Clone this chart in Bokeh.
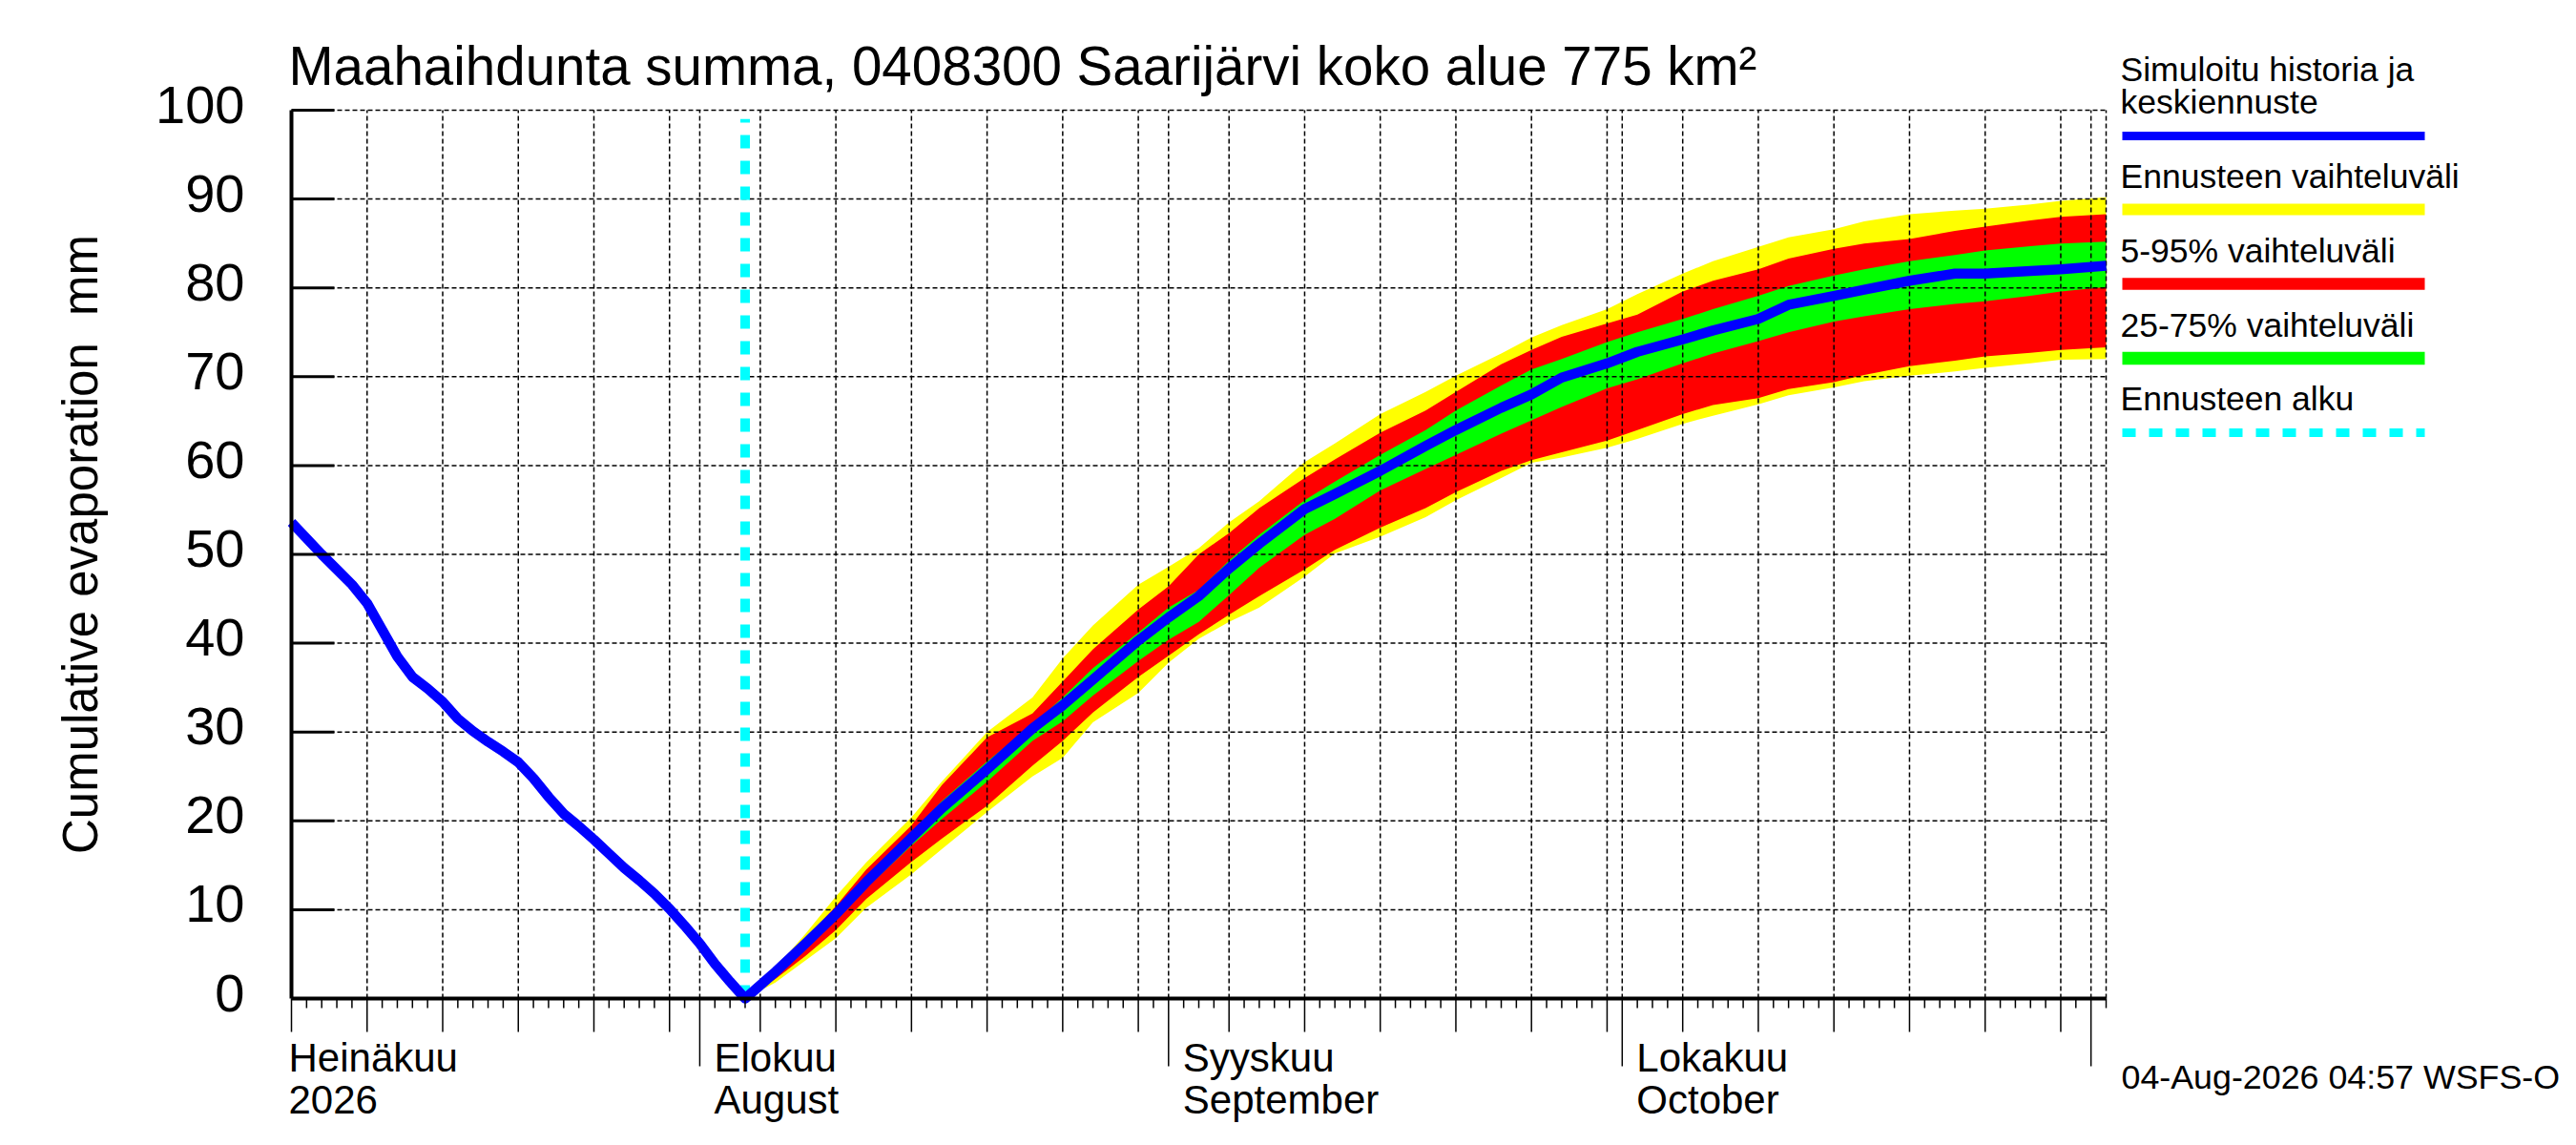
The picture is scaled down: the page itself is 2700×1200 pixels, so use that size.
import pandas as pd
from bokeh.plotting import figure
from bokeh.models import Range1d
from bokeh.embed import file_html
from bokeh.resources import INLINE
from bokeh.core.properties import value

# ---------------- data ----------------
TITLE = "Maahaihdunta summa, 0408300 Saarijärvi koko alue 775 km²"
Y_LABEL = "Cumulative evaporation \u00a0mm"
FOOTER = "04-Aug-2026 04:57 WSFS-O"
START = "2026-07-05"
END = "2026-11-02"
FORECAST_START = "2026-08-04"
Y_TICKS = [0, 10, 20, 30, 40, 50, 60, 70, 80, 90, 100]

month_starts = ["2026-07-01", "2026-08-01", "2026-09-01", "2026-10-01"]
month_fi = ["Heinäkuu", "Elokuu", "Syyskuu", "Lokakuu"]
month_line2 = ["2026", "August", "September", "October"]

hist_dates = pd.date_range("2026-07-05", "2026-08-04", freq="D")
hist_values = [53.6, 51.8, 50.0, 48.3, 46.6, 44.5, 41.5, 38.5, 36.2, 34.9, 33.4,
               31.5, 30.1, 28.9, 27.8, 26.6, 24.8, 22.7, 20.8, 19.4, 17.9, 16.3,
               14.7, 13.3, 11.8, 10.1, 8.2, 6.2, 3.9, 1.9, 0.0]

fc_dates = ["2026-08-04", "2026-08-06", "2026-08-08", "2026-08-10", "2026-08-12",
            "2026-08-15", "2026-08-17", "2026-08-20", "2026-08-23", "2026-08-25",
            "2026-08-27", "2026-08-30", "2026-09-01", "2026-09-03", "2026-09-05",
            "2026-09-07", "2026-09-10", "2026-09-12", "2026-09-15", "2026-09-18",
            "2026-09-20", "2026-09-23", "2026-09-25", "2026-09-27", "2026-09-30",
            "2026-10-02", "2026-10-05", "2026-10-07", "2026-10-10", "2026-10-12",
            "2026-10-15", "2026-10-17", "2026-10-20", "2026-10-23", "2026-10-25",
            "2026-10-28", "2026-10-30", "2026-11-02"]
fc_median = [0, 3.0, 6.2, 9.5, 13.1, 18.1, 21.4, 25.8, 30.4, 33.0, 35.9, 40.3, 42.9,
             45.3, 48.4, 51.2, 55.1, 56.8, 59.4, 62.2, 64.0, 66.5, 68.0, 69.9, 71.5,
             72.8, 74.2, 75.2, 76.5, 78.1, 79.1, 79.8, 80.8, 81.6, 81.6, 81.9, 82.1, 82.5]
fc_max = [0, 3.4, 7.3, 11.5, 15.3, 20.4, 24.4, 30.0, 33.9, 38.3, 42.0, 46.6, 48.6,
          50.7, 53.6, 56.0, 60.4, 62.5, 65.8, 68.3, 70.1, 72.6, 74.4, 75.8, 77.6,
          79.3, 81.6, 83.0, 84.6, 85.7, 86.6, 87.5, 88.3, 88.7, 88.9, 89.4, 89.8, 90.2]
fc_p95 = [0, 3.2, 6.8, 10.4, 14.5, 19.5, 24.0, 29.4, 32.1, 35.7, 39.3, 43.8, 46.4,
          50.0, 52.4, 55.2, 58.6, 60.7, 63.7, 66.2, 68.3, 71.4, 73.0, 74.5, 76.0,
          77.0, 79.6, 80.8, 82.1, 83.3, 84.4, 85.0, 85.5, 86.4, 86.9, 87.6, 88.0, 88.3]
fc_p75 = [0, 3.1, 6.4, 10.0, 13.8, 18.6, 22.2, 26.7, 30.8, 33.9, 37.2, 41.2, 44.0,
          46.0, 49.3, 52.2, 56.1, 58.2, 61.2, 64.0, 66.2, 69.0, 70.8, 72.0, 73.9,
          75.0, 76.5, 77.6, 79.1, 80.2, 81.4, 82.1, 83.0, 83.7, 84.2, 84.7, 85.0, 85.2]
fc_p25 = [0, 2.8, 5.6, 8.8, 12.4, 17.2, 20.2, 24.4, 29.0, 31.2, 34.1, 38.0, 40.4,
          42.4, 45.4, 48.5, 52.2, 54.0, 57.2, 59.6, 61.2, 63.6, 65.1, 66.6, 68.7,
          69.7, 71.5, 72.6, 74.0, 75.0, 76.2, 76.8, 77.6, 78.2, 78.5, 79.1, 79.6, 80.1]
fc_p5 = [0, 2.2, 4.8, 7.7, 11.2, 15.4, 18.0, 21.7, 26.2, 29.0, 32.2, 36.2, 38.6,
         41.0, 43.2, 45.3, 48.3, 50.5, 53.0, 55.2, 57.0, 59.4, 60.6, 61.5, 62.8,
         64.0, 65.8, 66.8, 67.6, 68.6, 69.4, 70.2, 71.2, 71.8, 72.3, 72.7, 73.0, 73.3]
fc_min = [0, 1.8, 4.3, 6.8, 10.2, 14.0, 16.8, 21.0, 25.0, 27.1, 31.1, 34.4, 37.8,
          40.5, 42.4, 44.0, 47.5, 50.1, 52.0, 54.2, 56.1, 58.6, 60.3, 60.9, 62.0,
          63.0, 64.7, 65.6, 66.9, 67.9, 68.8, 69.5, 70.1, 70.6, 71.0, 71.5, 71.9, 72.0]

legend_labels = [["Simuloitu historia ja", "keskiennuste"], ["Ennusteen vaihteluväli"],
                 ["5-95% vaihteluväli"], ["25-75% vaihteluväli"], ["Ennusteen alku"]]

# ---------------- styling / layout ----------------
BLUE, YELLOW, RED, GREEN, CYAN = "#0000ff", "#ffff00", "#ff0000", "#00ff00", "#00ffff"
FONT = value("Liberation Sans")
W, H = 2695, 1195
PX_PER_DAY = 15.85
PX_PER_MM = 9.31
X0_PX, Y0_PX = 305, 1046  # pixel of (START, 0)
BASE_FIX = 0.32  # em shift compensating the text box placement

DAY_MS = 86400000.0
t_start = pd.Timestamp(START).value / 1e6
t_end = pd.Timestamp(END).value / 1e6


def ms(d):
    return pd.Timestamp(d).value / 1e6


def xpx(px):
    return t_start + (px - X0_PX) / PX_PER_DAY * DAY_MS


def ypx(py):
    return (Y0_PX - py) / PX_PER_MM


def dx(px):
    return px / PX_PER_DAY * DAY_MS


def dy(px):
    return px / PX_PER_MM


p = figure(width=W, height=H, output_backend="svg", toolbar_location=None,
           x_range=Range1d(xpx(0), xpx(W)),
           y_range=Range1d(ypx(H), ypx(0)),
           x_axis_location=None, y_axis_location=None, min_border=0,
           outline_line_color=None, background_fill_color="white",
           border_fill_color="white")
for g in p.grid:
    g.visible = False


def put_text(xs, ys_px, texts, size, align="left"):
    """ys_px: wanted alphabetic baseline in pixels"""
    p.text(x=xs, y=[ypx(b - BASE_FIX * size) for b in ys_px], text=texts,
           text_align=align, text_baseline="alphabetic", text_font=FONT,
           text_font_size=value(f"{size}px"), text_color="black")


fx = [ms(d) for d in fc_dates]
y_top = Y_TICKS[-1]

# forecast bands
p.varea(x=fx, y1=fc_min, y2=fc_max, fill_color=YELLOW)
p.varea(x=fx, y1=fc_p5, y2=fc_p95, fill_color=RED)
p.varea(x=fx, y1=fc_p25, y2=fc_p75, fill_color=GREEN)

# grid
days = pd.date_range(START, END, freq="D")
grid_days = [d for d in days[1:] if d.day in (1, 5, 10, 15, 20, 25, 30)]
if days[-1] not in grid_days:
    grid_days.append(days[-1])
gx = [d.value / 1e6 for d in grid_days]
p.segment(x0=gx, x1=gx, y0=[0] * len(gx), y1=[y_top] * len(gx),
          line_color="black", line_width=1.5, line_dash="5 3")
hy = Y_TICKS[1:]
p.segment(x0=[t_start] * len(hy), x1=[t_end] * len(hy), y0=hy, y1=hy,
          line_color="black", line_width=1.5, line_dash="5 3")

# forecast start marker
fs = ms(FORECAST_START)
p.segment(x0=[fs], x1=[fs], y0=[0], y1=[y_top - 1], line_color=CYAN, line_width=10,
          line_dash="14 13")

# history + median
blue_x = [d.value / 1e6 for d in hist_dates] + fx[1:]
blue_y = hist_values + fc_median[1:]
p.line(blue_x, blue_y, line_color=BLUE, line_width=10.5, line_join="round")

# axes lines
p.segment(x0=[t_start], x1=[t_start], y0=[0], y1=[y_top], line_color="black", line_width=4)
p.segment(x0=[t_start], x1=[t_end], y0=[0], y1=[0], line_color="black", line_width=4)

# y ticks (inward) and labels
p.segment(x0=[t_start] * len(Y_TICKS), x1=[t_start + dx(45)] * len(Y_TICKS),
          y0=Y_TICKS, y1=Y_TICKS, line_color="black", line_width=3)
p.text(x=[t_start - dx(49)] * len(Y_TICKS),
       y=[v - dy(12) + dy(BASE_FIX * 56) for v in Y_TICKS],
       text=[str(v) for v in Y_TICKS], text_align="right", text_baseline="alphabetic",
       text_font=FONT, text_font_size=value("56px"), text_color="black")

# x ticks
tx, tlen = [], []
for d in days:
    tx.append(d.value / 1e6)
    if d.day == 1:
        tlen.append(71)
    elif d.day % 5 == 0:
        tlen.append(35)
    else:
        tlen.append(10)
p.segment(x0=tx, x1=tx, y0=[0] * len(tx), y1=[-dy(L) for L in tlen],
          line_color="black", line_width=1.5)

# month labels
lab_x = []
for m in month_starts:
    t = ms(m)
    lab_x.append(t + dx(15) if t >= t_start else t_start - dx(3))
put_text(lab_x, [1121] * len(lab_x), month_fi, 42)
put_text(lab_x, [1165] * len(lab_x), month_line2, 42)

# title
put_text([xpx(302)], [87], [TITLE], 56.5)

# y label (rotated)
p.text(x=[xpx(100 - BASE_FIX * 51)], y=[ypx(570)], text=[Y_LABEL], angle=1.5707963,
       text_align="center", text_baseline="alphabetic", text_font=FONT,
       text_font_size=value("51px"), text_color="black")

# footer
put_text([xpx(2223)], [1140], [FOOTER], 35.8)

# legend
lx0, lx1 = xpx(2224), xpx(2541)
text_base = [[84, 118], [196], [274], [352], [429]]
line_y = [142, 219, 297, 375, 453]
line_w = [9, 12, 12.5, 13.4, 9]
line_c = [BLUE, YELLOW, RED, GREEN, CYAN]
for labels, bases, ly, lw, lc in zip(legend_labels, text_base, line_y, line_w, line_c):
    put_text([xpx(2222)] * len(labels), bases, labels, 35.5)
    p.segment(x0=[lx0], x1=[lx1], y0=[ypx(ly)], y1=[ypx(ly)], line_color=lc,
              line_width=lw, line_dash="14 14" if lc == CYAN else "solid")

open("out.html", "w").write(file_html(p, INLINE))
